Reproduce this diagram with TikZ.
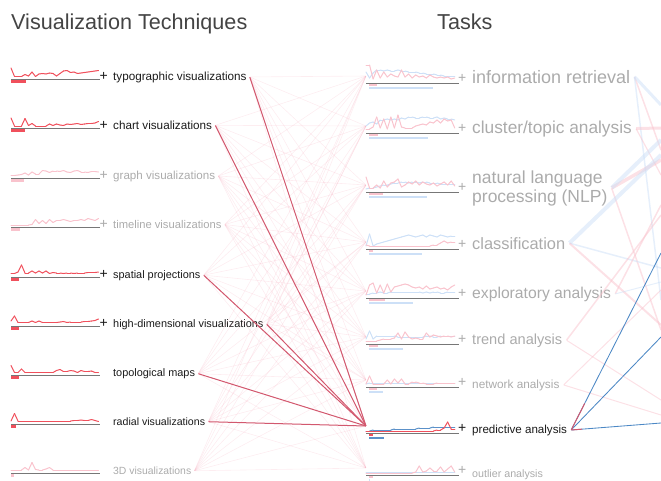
\documentclass[tikz,border=0pt]{standalone}
\usepackage{fontspec}
\setmainfont{Liberation Sans}
\usetikzlibrary{calc}

\definecolor{redline}{HTML}{F0505C}
\definecolor{pinkline}{HTML}{F9C3CD}
\definecolor{bluelight}{HTML}{CDE0F7}
\definecolor{bluedark}{HTML}{5B91C9}
\definecolor{zerogray}{HTML}{777777}
\definecolor{textgray}{HTML}{ABABAB}
\definecolor{textdark}{HTML}{1A1A1A}
\definecolor{titlegray}{HTML}{444444}
\definecolor{faintred}{HTML}{F4A3B6}
\definecolor{hired}{HTML}{D2586E}
\definecolor{bluemid}{HTML}{4C88C5}

\begin{document}
\begin{tikzpicture}[
		x=1pt, y=-1pt,
		every node/.style={inner sep=0pt, anchor=base west},
		anchorpt/.style={inner sep=0pt, minimum size=0pt, anchor=center},
		head/.style={text=titlegray, font=\fontsize{21.6}{24}\selectfont},
		plussign/.style={font=\fontsize{14}{14}\selectfont},
		zeroline/.style={draw=zerogray, line width=0.9pt},
		faint/.style={draw=faintred, line width=0.6pt, opacity=0.2},
		hilite/.style={draw=hired, line width=1pt},
		outline/.style={draw=bluemid, line width=0.85pt}
	]
  \useasboundingbox (0,0) rectangle (661,480);

  \node[head] (vt) at (11,29) {Visualization Techniques};
  \node[head] (tk) at (437,29) {Tasks};

  \foreach \n/\l/\t/\s/\c/\p/\b/\d in {
      ty/79/typographic visualizations/11.7/1/1/26/{10,1.5,1.5,1.5,3.5,2,6,1.5,4,4.5,4,5,4.5,2,4.5,7,7.5,5.5,6,4.5,5,5.5,6,6.5,7,7.5},
      ch/128.5/chart visualizations/11.7/1/1/25/{9.5,1.5,1.5,1.5,9,2,4,1.5,1.5,1.5,1.5,3.5,2,3.5,2.5,2,3.5,3,3.5,4,3,3.5,4,4,4.5,6},
      gr/178/graph visualizations/11.6/0/1/24/{1.5,1.5,2,2.5,4,2,5,3,3,6.5,6,4.5,6,6,5.5,6.5,5,4.5,6,6.5,5,5,4.5,5.5,5.5,5},
      tl/227.5/timeline visualizations/11.2/0/1/20/{1.5,1.5,1.5,1.5,1.5,1.5,2,7,3,6,3,7,4,6,6,7,6,5,6,6,7,6,8,7,6,8},
      sp/277/spatial projections/10.9/1/1/19/{2.5,2.5,4,11,3,3,5,3,5,3,5,2.5,3.5,3,3,2.5,3,3,2.5,3,3,3,3.5,3.5,3.5,4},
      hd/326/high-dimensional visualizations/10.9/1/1/19/{4,9,2.5,2.5,2.5,2.5,4,2.5,4,2.5,2.5,2.5,2.5,2.5,3,3.5,2.5,3,3,3,3,3.5,3.5,4,4.5,6},
      tp/375.5/topological maps/10.9/1/0/19/{9,2,2,5.5,2,2,2,2,2,2,2,2,2,4,5,3,3,4,3.5,2,4,3,3,3.5,2,2},
      rd/424.5/radial visualizations/10.6/1/0/16/{2.5,10,2.5,2.5,2.5,2.5,2.5,2.5,2.5,2.5,2.5,2.5,2.5,2.5,2.5,2.5,2.5,2.5,3,3,3.5,3,3,4,3,2},
      td/473.5/3D visualizations/10.4/0/0/14/{2.5,2.5,2.5,2.5,5,2.5,10,3,2.5,2.5,3.5,5,2.5,2.5,2.5,2.5,2.5,2.5,2.5,2.5,2.5,2.5,2.5,2.5,2.5,2.5}}{
    \ifnum\c=1 \def\lc{redline}\def\tc{textdark}\else\def\lc{pinkline}\def\tc{textgray}\fi
    \draw[zeroline] (11,\l) -- (100,\l);
    \fill[\lc] (11,\l+0.5) rectangle (\b,\l+3.5);
    \foreach \v [count=\i from 0, remember=\v as \u] in \d {
      \ifnum\i>0 \draw[\lc, line width=1pt, line cap=round] ({11+(\i-1)*3.5},{\l-1-\u}) -- ({11+\i*3.5},{\l-1-\v}); \fi
    }
    \ifnum\p=1 \node[plussign, text=\tc] (\n-p) at (99.5,\l+1) {+}; \fi
    \node[text=\tc, font=\fontsize{\s}{19}\selectfont] (\n) at (113,\l+1) {\t};
    \node[anchorpt] (\n-o) at ([xshift=3pt]\n.east) {};
  }

  \foreach \n/\l/\ty/\t/\s/\c/\pb/\bb/\pk/\bk in {
      ir/83/83/{information retrieval}/18/0/377/433/{17,17,3,12,4,10,5,8,6,5,12,5,8,4,7,5,6,4,7,5,4,5,4,5,3,4}/{10,4,9,12,12,11,12,11,11,12,11,11,10,10,10,9,9,8,8,8,7,7,6,6,6,6},
      cl/133/133/{cluster/topic analysis}/17.3/0/378/428/{3,3,5,15,4,13,3,15,4,17,5,4,4,4,6,7,8,7,10,9,12,9,13,11,12,4}/{6,9,10,8,12,12,13,12,13,12,14,13,15,15,14,14,15,15,14,14,15,13,14,13,13,12},
      nlp/192/202/{natural language\\processing (NLP)}/17.5/0/383/427/{14,3,3,6,3,10,4,8,9,12,4,6,9,7,10,6,9,7,6,8,5,7,9,6,10,5}/{2,3,3,4,5,6,6,7,8,8,9,9,8,9,9,8,9,9,8,8,8,7,7,7,7,7},
      cs/249/249/{classification}/16.4/0/373/422/{3,2,2,2,2,2,2,2,2,2,2,2,2,2,2,2,2,2,2,3,3,5,7,5,6,6}/{2,14,2,4,5,6,7,8,9,10,11,12,13,12,11,12,13,11,13,12,11,13,12,11,12,12},
      ex/298/298/{exploratory analysis}/15.7/0/385/413/{2,12,14,4,12,4,13,5,10,11,12,13,12,10,9,10,8,11,8,9,10,8,9,7,10,12}/{3,3,4,4,5,4,4,5,5,5,5,5,5,5,5,5,4,5,4,5,5,4,4,5,5,5},
      tr/344/344/{trend analysis}/14.6/0/378/403/{2,2,2,2,3,4,4,4,5,10,4,11,6,4,5,4,4,10,6,8,7,6,7,7,6,7}/{4,12,4,7,7,7,7,7,7,6,6,6,6,6,6,6,6,7,7,6,6,7,7,7,7,7},
      nw/387/388/{network analysis}/11.8/0/377/383/{2,10,2,2,2,2,6,2,7,3,7,2,2,4,4,3,3,2,2,2,3,3,3,3,3,3}/{2,3,3,3,3,3,3,3,3,3,3,3,3,3,3,3,3,3,3,3,3,3,3,3,3,3},
      pa/433/433/{predictive analysis}/11.6/1/373/384/{1,1,1,1,1,1,1,1,1,1,1,1,1,1,1,1,1,1,1,1,2,2,4,10,3,3}/{1,1,2,2,2,2,2,2,3,3,3,3,3,3,3,4,4,4,4,5,5,5,5,5,5,5},
      ol/475/477/{outlier analysis}/10.7/0/373/370/{1,1,1,1,1,1,1,1,1,1,1,1,1,1,2,8,2,3,6,3,3,7,2,5,8,2}/{2,2,2,2,2,2,2,2,2,2,2,2,2,2,2,2,2,2,2,2,2,2,2,2,2,2}}{
    \ifnum\c=1 \def\pc{redline}\def\bc{bluedark}\def\tc{textdark}\else\def\pc{pinkline}\def\bc{bluelight}\def\tc{textgray}\fi
    \draw[zeroline] (366,\l) -- (459,\l);
    \fill[\pc] (369,\l+0.5) rectangle (\pb,\l+3);
    \fill[\bc] (369,\l+3.5) rectangle (\bb,\l+6);
    \foreach \v [count=\i from 0, remember=\v as \u] in \bk {
      \ifnum\i>0 \draw[\bc, line width=1pt, line cap=round] ({366+(\i-1)*3.55},{\l-1-\u}) -- ({366+\i*3.55},{\l-1-\v}); \fi
    }
    \foreach \v [count=\i from 0, remember=\v as \u] in \pk {
      \ifnum\i>0 \draw[\pc, line width=1pt, line cap=round] ({366+(\i-1)*3.55},{\l-1-\u}) -- ({366+\i*3.55},{\l-1-\v}); \fi
    }
    \node[plussign, text=\tc] (\n-p) at (458,\l-1) {+};
    \node[text=\tc, align=left, font=\fontsize{\s}{19}\selectfont] (\n) at (472,\ty) {\t};
    \node[anchorpt] (\n-i) at (366,\l-7) {};
    \node[anchorpt] (\n-o) at ([xshift=4pt]\n.east) {};
  }

  \foreach \a in {ty,ch,gr,tl,sp,hd,tp,rd,td}
    \foreach \b in {ir,cl,nlp,cs,ex,tr,nw,pa,ol}
      \draw[faint] (\a-o) -- (\b-i);
  \foreach \a in {ty,ch,sp,hd,tp,rd}
    \draw[hilite] (\a-o) -- (pa-i);

  \foreach \a/\y/\c/\w in {
      ir/150/pinkline/1.5, ir/105/bluelight/3, ir/300/bluelight/1.5,
      cl/128/pinkline/3, cl/175/pinkline/1.2,
      nlp/160/pinkline/3.5, nlp/330/pinkline/1.5, nlp/140/bluelight/4,
      cs/155/bluelight/4, cs/268/bluelight/1.5, cs/325/pinkline/2,
      ex/205/pinkline/1.5, ex/282/bluelight/1,
      tr/215/pinkline/1.5, tr/400/pinkline/1,
      nw/290/pinkline/1, nw/415/pinkline/1}
    {\coordinate (\a-\y) at (661,\y);
     \draw[draw=\c, line width=\w pt, opacity=.5] (\a-o) -- (\a-\y);}

  \coordinate (r1) at (661,253);
  \coordinate (r2) at (661,337);
  \coordinate (r3) at (661,423);
  \draw[outline] (pa-o) -- (r1);
  \draw[outline] (pa-o) -- (r2);
  \draw[outline] (pa-o) -- (r3);
  \draw[hilite] (pa-o) -- ($(pa-o)!0.15!(r1)$);
  \draw[hilite] (pa-o) -- ($(pa-o)!0.12!(r3)$);
\end{tikzpicture}
\end{document}
